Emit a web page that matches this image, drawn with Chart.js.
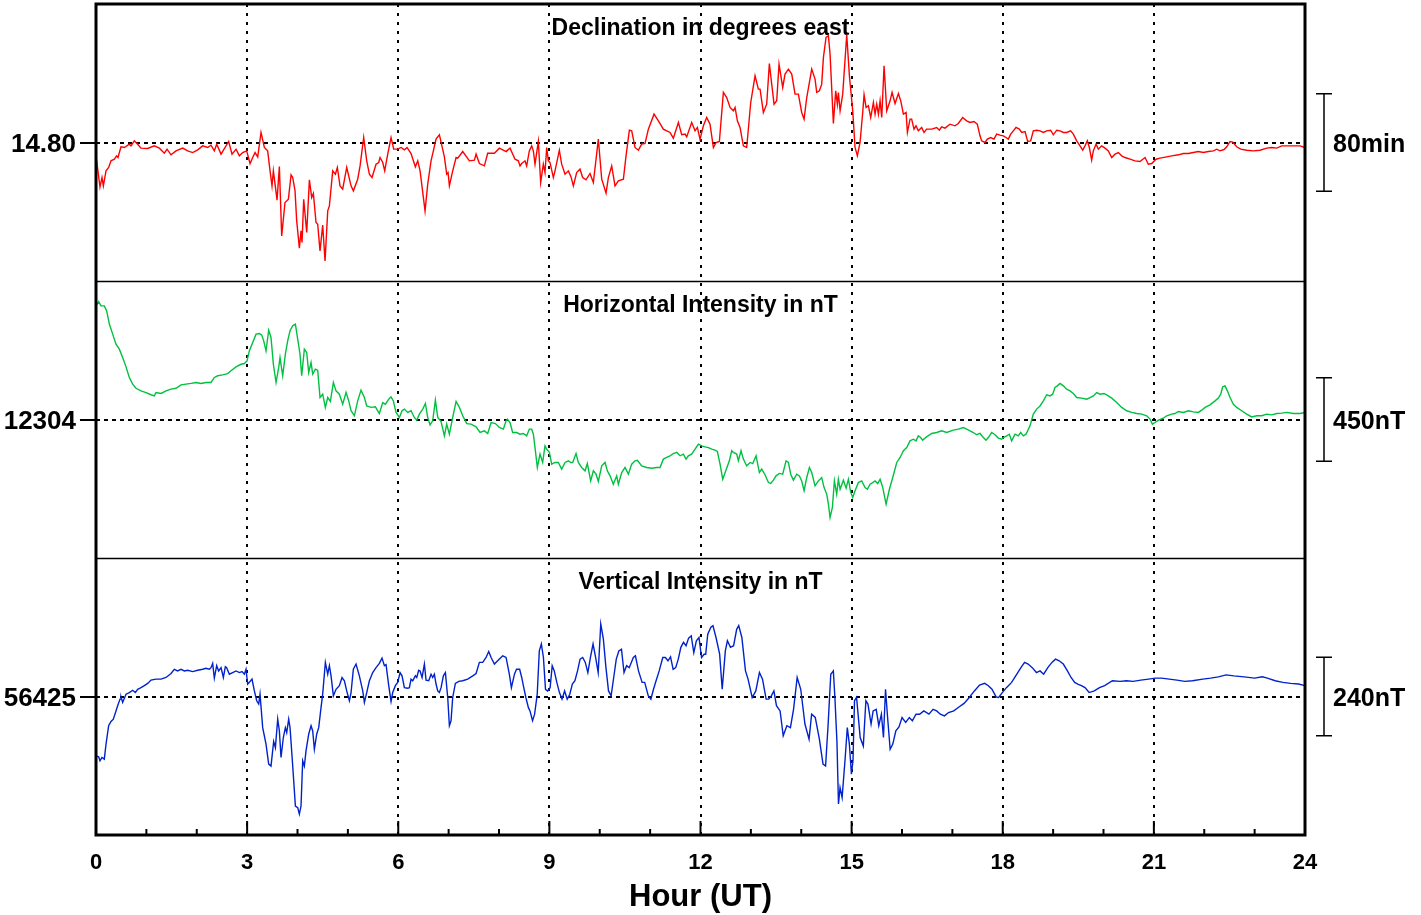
<!DOCTYPE html>
<html>
<head>
<meta charset="utf-8">
<title>Magnetogram</title>
<script src="https://cdn.jsdelivr.net/npm/chart.js@4.4.1/dist/chart.umd.min.js"></script>
<style>
  html, body { margin: 0; padding: 0; background: #fff; }
  #wrap { width: 1421px; height: 915px; }
</style>
</head>
<body>
<div id="wrap"><canvas id="magChart"></canvas></div>
<script>
// Hour ticks along the bottom axis
const hourTicks = [0, 3, 6, 9, 12, 15, 18, 21, 24];

// Panel titles, baselines (centre tick) and scale-bar spans
const panelTitles = ['Declination in degrees east', 'Horizontal Intensity in nT', 'Vertical Intensity in nT'];
const panelCenters = [14.80, 12304, 56425];
const panelHalfRanges = [1.890, 744.6, 422.4];
const scaleBarSpans = [80 / 60, 450, 240];
const scaleBarLabels = ['80min', '450nT', '240nT'];

// Declination (degrees east)
const declHours = [
  0, 0.079, 0.119, 0.146, 0.199, 0.251, 0.298, 0.364, 0.410, 0.437,
  0.496, 0.563, 0.662, 0.695, 0.761, 0.827, 0.893, 1.026, 1.158, 1.257,
  1.357, 1.410, 1.489, 1.588, 1.721, 1.820, 1.919, 2.019, 2.118, 2.217,
  2.283, 2.349, 2.396, 2.482, 2.634, 2.700, 2.780, 2.846, 2.912, 2.991,
  3.058, 3.111, 3.157, 3.210, 3.276, 3.342, 3.408, 3.455, 3.494, 3.521,
  3.594, 3.640, 3.686, 3.752, 3.819, 3.872, 3.905, 3.951, 3.984, 4.037,
  4.070, 4.090, 4.123, 4.183, 4.236, 4.282, 4.315, 4.368, 4.401, 4.447,
  4.500, 4.547, 4.600, 4.633, 4.699, 4.752, 4.791, 4.844, 4.897, 4.977,
  5.063, 5.109, 5.195, 5.242, 5.314, 5.374, 5.427, 5.480, 5.559, 5.612,
  5.639, 5.692, 5.731, 5.791, 5.857, 5.910, 5.989, 6.056, 6.122, 6.175,
  6.254, 6.340, 6.387, 6.433, 6.532, 6.585, 6.651, 6.697, 6.750, 6.817,
  6.916, 6.962, 6.989, 7.015, 7.081, 7.148, 7.181, 7.280, 7.412, 7.512,
  7.545, 7.611, 7.710, 7.776, 7.909, 8.008, 8.140,
  8.152, 8.219, 8.318, 8.384, 8.417, 8.450, 8.516, 8.549, 8.602, 8.649,
  8.682, 8.715, 8.781, 8.827, 8.880, 8.913, 8.947, 8.980, 9.013, 9.079,
  9.112, 9.198, 9.244, 9.311, 9.377, 9.430, 9.476, 9.542, 9.608, 9.661,
  9.727, 9.807, 9.873, 9.972, 10.039, 10.125, 10.171, 10.237, 10.303, 10.369,
  10.469, 10.522, 10.588, 10.634, 10.700, 10.767, 10.833, 10.899, 10.965, 11.078,
  11.164, 11.263, 11.329, 11.395, 11.461, 11.561, 11.627, 11.693, 11.726, 11.825,
  11.892, 11.938, 11.991, 12.057, 12.123, 12.189, 12.256, 12.309, 12.375, 12.454,
  12.520, 12.587, 12.653, 12.686, 12.732, 12.785, 12.851, 12.917, 12.997, 13.083,
  13.149, 13.182, 13.248, 13.314, 13.367, 13.414, 13.460, 13.513, 13.559, 13.632,
  13.678, 13.745, 13.811, 13.877, 13.943, 14.009, 14.056, 14.109, 14.208, 14.274,
  14.307, 14.360, 14.406, 14.440, 14.492, 14.539, 14.572, 14.638, 14.684, 14.717,
  14.737, 14.771, 14.823, 14.903, 14.956, 15.022, 15.068, 15.114, 15.167, 15.220,
  15.247, 15.287, 15.333, 15.379, 15.432, 15.465, 15.498, 15.532, 15.565, 15.598,
  15.644, 15.697, 15.763, 15.803, 15.862, 15.929, 15.975, 16.028, 16.081, 16.107,
  16.160,
  16.192, 16.238, 16.278, 16.324, 16.390, 16.437, 16.489, 16.589, 16.688, 16.741,
  16.787, 16.853, 16.953, 17.052, 17.118, 17.204, 17.284, 17.350, 17.429, 17.495,
  17.548, 17.581, 17.648, 17.694, 17.760, 17.826, 17.879, 17.945, 18.012, 18.065,
  18.111, 18.157, 18.210, 18.263, 18.329, 18.376, 18.442, 18.495, 18.554, 18.607,
  18.673, 18.740, 18.806, 18.872, 18.951, 19.004, 19.071, 19.137, 19.203, 19.269,
  19.348, 19.401, 19.468, 19.534, 19.587, 19.633, 19.679, 19.719, 19.765, 19.798,
  19.851, 19.898, 19.964, 20.030, 20.096, 20.163, 20.229, 20.295, 20.361, 20.427,
  20.527, 20.626, 20.725, 20.824, 20.890, 20.957, 21.043, 21.122, 21.254, 21.354,
  21.486, 21.585, 21.685, 21.784, 21.883, 21.983, 22.082, 22.181, 22.247, 22.313,
  22.393, 22.446, 22.512, 22.565, 22.644, 22.724, 22.843, 22.975, 23.108, 23.240,
  23.339, 23.439, 23.538, 23.670, 23.802, 23.902, 24.0
];
const declValues = [
  14.618, 14.195, 14.322, 14.208, 14.413, 14.459, 14.550, 14.572, 14.618, 14.595,
  14.741, 14.732, 14.777, 14.754, 14.823, 14.777, 14.723, 14.718, 14.754, 14.723,
  14.654, 14.709, 14.632, 14.686, 14.723, 14.686, 14.663, 14.700, 14.754, 14.732,
  14.764, 14.686, 14.777, 14.641, 14.814, 14.641, 14.709, 14.618, 14.663, 14.686,
  14.513, 14.595, 14.663, 14.604, 14.937, 14.732, 14.686, 14.413, 14.208, 14.413,
  14.013, 14.472, 13.526, 13.981, 14.026, 14.359, 14.322, 14.140, 13.731, 13.358,
  13.594, 13.435, 14.026, 13.571, 14.290, 14.049, 14.104, 13.708, 13.685, 13.321,
  13.672, 13.185, 13.867, 13.935, 14.413, 14.368, 14.459, 14.208, 14.163, 14.459,
  14.208, 14.140, 14.299, 14.481, 14.868, 14.550, 14.368, 14.322, 14.504, 14.527,
  14.595, 14.527, 14.413, 14.641, 14.868, 14.709, 14.709, 14.732, 14.700, 14.732,
  14.650, 14.468, 14.550, 14.413, 13.867, 14.231, 14.550, 14.686, 14.846, 14.905,
  14.604, 14.368, 14.390, 14.208, 14.413, 14.595, 14.586, 14.677, 14.550, 14.559,
  14.641, 14.513, 14.481, 14.654, 14.654, 14.723, 14.677,
  14.686, 14.723, 14.572, 14.550, 14.481, 14.513, 14.550, 14.481, 14.686, 14.754,
  14.686, 14.504, 14.814, 14.254, 14.504, 14.390, 14.732, 14.550, 14.527, 14.322,
  14.413, 14.695, 14.504, 14.368, 14.413, 14.331, 14.208, 14.390, 14.436, 14.322,
  14.290, 14.377, 14.254, 14.846, 14.299, 14.108, 14.322, 14.481, 14.208, 14.277,
  14.299, 14.618, 14.968, 14.959, 14.732, 14.695, 14.777, 14.786, 14.982, 15.187,
  15.096, 14.982, 14.959, 14.937, 14.859, 15.073, 14.905, 14.914, 14.877, 15.073,
  14.959, 15.005, 14.846, 15.028, 15.141, 15.050, 14.732, 14.800, 14.814, 15.483,
  15.414, 15.278, 15.232, 15.278, 15.096, 15.005, 14.754, 14.732, 15.346, 15.710,
  15.528, 15.528, 15.210, 15.323, 15.878, 15.596, 15.323, 15.369, 15.869, 15.551,
  15.733, 15.801, 15.733, 15.460, 15.460, 15.210, 15.119, 15.414, 15.801, 15.665,
  15.483, 15.505, 15.596, 15.960, 16.233, 16.256, 16.006, 15.059, 15.505, 15.323,
  15.483, 15.232, 15.460, 16.270, 15.710, 15.232, 14.732, 14.618, 14.800, 15.210,
  15.451, 15.278, 15.301, 15.141, 15.346, 15.187, 15.323, 15.187, 15.369, 15.141,
  15.847, 15.232, 15.369, 15.483, 15.332, 15.469, 15.369, 15.187, 15.210, 14.937,
  15.119,
  15.119, 14.982, 15.028, 14.959, 15.005, 14.937, 14.982, 14.982, 15.005, 14.968,
  15.014, 14.996, 15.050, 15.028, 15.059, 15.141, 15.096, 15.073, 15.087, 15.050,
  14.891, 14.823, 14.800, 14.846, 14.868, 14.846, 14.914, 14.900, 14.891, 14.868,
  14.846, 14.914, 14.959, 15.005, 14.982, 14.937, 14.950, 14.814, 14.823, 14.959,
  14.968, 14.959, 14.937, 14.959, 14.968, 14.905, 14.968, 14.959, 14.937, 14.937,
  14.959, 14.914, 14.823, 14.754, 14.695, 14.754, 14.823, 14.732, 14.559, 14.686,
  14.777, 14.709, 14.754, 14.723, 14.686, 14.595, 14.641, 14.663, 14.618, 14.595,
  14.572, 14.550, 14.541, 14.595, 14.504, 14.513, 14.572, 14.586, 14.604, 14.618,
  14.632, 14.650, 14.650, 14.663, 14.677, 14.663, 14.677, 14.686, 14.709, 14.686,
  14.704, 14.741, 14.814, 14.805, 14.741, 14.709, 14.695, 14.686, 14.695, 14.723,
  14.732, 14.723, 14.754, 14.754, 14.754, 14.754, 14.732
];

// Horizontal intensity (nT)
const horizHours = [
  0, 0.053, 0.099, 0.165, 0.212, 0.265, 0.331, 0.397, 0.463, 0.529,
  0.596, 0.662, 0.728, 0.794, 0.893, 0.993, 1.092, 1.158, 1.191, 1.291,
  1.390, 1.489, 1.588, 1.688, 1.787, 1.886, 1.985, 2.085, 2.184, 2.283,
  2.349, 2.416, 2.515, 2.614, 2.680, 2.780, 2.879, 2.945, 2.998, 3.044,
  3.111, 3.177, 3.243, 3.289, 3.329, 3.375, 3.428, 3.474, 3.521, 3.574,
  3.627, 3.653, 3.706, 3.759, 3.805, 3.852, 3.905, 3.958, 4.004, 4.050,
  4.083, 4.136, 4.183, 4.222, 4.269, 4.302, 4.355, 4.401, 4.447, 4.500,
  4.553, 4.600, 4.653, 4.712, 4.765, 4.831, 4.897, 4.964, 5.017, 5.063,
  5.129, 5.195, 5.261, 5.328, 5.374, 5.460, 5.546, 5.625, 5.692, 5.745,
  5.811, 5.857, 5.903, 5.956, 6.023, 6.075, 6.122, 6.188, 6.254, 6.320,
  6.367, 6.420, 6.486, 6.539, 6.585, 6.631, 6.684, 6.737, 6.784, 6.850,
  6.916, 6.962, 7.015, 7.081, 7.148, 7.214, 7.280, 7.359, 7.445, 7.545,
  7.624, 7.710, 7.776, 7.843, 7.928, 8.008, 8.087, 8.140,
  8.166, 8.219, 8.271, 8.351, 8.417, 8.483, 8.549, 8.602, 8.649, 8.682,
  8.715, 8.761, 8.814, 8.867, 8.913, 8.947, 9.000, 9.046, 9.112, 9.178,
  9.244, 9.311, 9.377, 9.423, 9.463, 9.529, 9.575, 9.641, 9.708, 9.754,
  9.820, 9.873, 9.926, 9.972, 10.039, 10.105, 10.151, 10.204, 10.270, 10.336,
  10.369, 10.436, 10.502, 10.568, 10.634, 10.700, 10.747, 10.833, 10.932, 11.031,
  11.131, 11.197, 11.263, 11.329, 11.395, 11.461, 11.528, 11.594, 11.660, 11.713,
  11.759, 11.825, 11.892, 11.958, 12.024, 12.090, 12.156, 12.223, 12.289, 12.335,
  12.388, 12.441, 12.507, 12.573, 12.620, 12.653, 12.719, 12.752, 12.805, 12.851,
  12.917, 12.984, 13.037, 13.103, 13.169, 13.215, 13.281, 13.348, 13.394, 13.447,
  13.500, 13.566, 13.632, 13.698, 13.745, 13.791, 13.844, 13.910, 13.963, 14.009,
  14.056, 14.109, 14.162, 14.208, 14.274, 14.340, 14.406, 14.453, 14.506, 14.539,
  14.572, 14.618, 14.658, 14.704, 14.737, 14.771, 14.837, 14.890, 14.936, 14.982,
  15.022, 15.068, 15.134, 15.200, 15.267, 15.313, 15.366, 15.419, 15.465, 15.518,
  15.565, 15.618, 15.684, 15.750, 15.816, 15.896, 15.962, 16.028, 16.094, 16.160,
  16.225, 16.278, 16.324, 16.370, 16.410, 16.489, 16.589, 16.688, 16.787, 16.887,
  17.019, 17.118, 17.217, 17.284, 17.350, 17.416, 17.482, 17.548, 17.615, 17.667,
  17.714, 17.780, 17.846, 17.912, 17.979, 18.012, 18.078, 18.131, 18.177, 18.243,
  18.309, 18.356, 18.409, 18.462, 18.541, 18.607, 18.673, 18.740, 18.806, 18.872,
  18.938, 18.991, 19.037, 19.084, 19.137, 19.203, 19.269, 19.335, 19.401, 19.468,
  19.567, 19.666, 19.732, 19.798, 19.865, 19.931, 20.010, 20.096, 20.163, 20.262,
  20.361, 20.460, 20.560, 20.659, 20.758, 20.857, 20.924, 20.970, 21.023, 21.089,
  21.188, 21.254, 21.354, 21.420, 21.486, 21.585, 21.685, 21.784, 21.883, 21.949,
  22.016, 22.115, 22.214, 22.280, 22.327, 22.366, 22.413, 22.459, 22.512, 22.578,
  22.644, 22.744, 22.843, 22.942, 23.041, 23.141, 23.240, 23.339, 23.439, 23.538,
  23.637, 23.769, 23.902, 24.0
];
const horizValues = [
  12915, 12938, 12915, 12915, 12888, 12817, 12763, 12709, 12682, 12637,
  12587, 12530, 12494, 12472, 12458, 12449, 12437, 12431, 12449, 12444,
  12458, 12467, 12472, 12490, 12494, 12498, 12503, 12498, 12503, 12503,
  12530, 12539, 12544, 12551, 12566, 12587, 12601, 12605, 12619, 12673,
  12718, 12763, 12766, 12759, 12727, 12673, 12784, 12745, 12601, 12503,
  12584, 12637, 12539, 12655, 12727, 12781, 12808, 12817, 12736, 12655,
  12539, 12682, 12664, 12557, 12610, 12548, 12575, 12569, 12422, 12440,
  12369, 12422, 12401, 12503, 12458, 12440, 12386, 12449, 12404, 12351,
  12324, 12404, 12462, 12422, 12377, 12369, 12372, 12336, 12395, 12386,
  12413, 12426, 12404, 12342, 12315, 12351, 12360, 12342, 12351, 12315,
  12300, 12333, 12360, 12390, 12315, 12275, 12297, 12408, 12315, 12293,
  12216, 12279, 12225, 12315, 12401, 12369, 12324, 12282, 12279, 12265,
  12234, 12243, 12229, 12288, 12282, 12261, 12252, 12297,
  12306, 12288, 12234, 12234, 12225, 12229, 12216, 12252, 12252, 12225,
  12153, 12046, 12118, 12073, 12162, 12145, 12127, 12064, 12073, 12073,
  12037, 12073, 12082, 12073, 12073, 12121, 12073, 12046, 12028, 12067,
  11974, 12028, 12010, 11971, 12055, 12073, 12028, 12001, 11956, 12001,
  11956, 12019, 12046, 12010, 12064, 12082, 12085, 12055, 12046, 12042,
  12046, 12046, 12091, 12100, 12109, 12121, 12127, 12109, 12118, 12091,
  12109, 12118, 12145, 12171, 12162, 12157, 12153, 12145, 12139, 12132,
  12064, 11983, 12032, 12082, 12136, 12127, 12118, 12082, 12136, 12091,
  12055, 12073, 12067, 12109, 12019, 12037, 12007, 11965, 11960, 11978,
  12001, 12014, 12010, 12082, 12073, 12010, 11978, 12010, 12001, 11974,
  11921, 11992, 12046, 12019, 11947, 11974, 11992, 11938, 11903, 11849,
  11777, 11831, 11974, 11903, 11983, 11929, 11978, 11935, 11983, 11912,
  11885, 11921, 11965, 11974, 11938, 11929, 11956, 11965, 11974, 11960,
  11983, 11938, 11849, 11929, 11992, 12073, 12100, 12136, 12153, 12189,
  12198, 12189, 12216, 12207, 12193, 12211, 12229, 12234, 12243, 12234,
  12247, 12252, 12261, 12252, 12243, 12234, 12222, 12229, 12207, 12193,
  12207, 12234, 12222, 12204, 12198, 12207, 12216, 12225, 12189, 12225,
  12216, 12234, 12216, 12225, 12270, 12333, 12360, 12377, 12404, 12437,
  12431, 12440, 12476, 12485, 12498, 12485, 12467, 12458, 12444, 12422,
  12419, 12413, 12422, 12431, 12449, 12440, 12444, 12431, 12419, 12395,
  12369, 12351, 12342, 12336, 12333, 12324, 12306, 12279, 12288, 12300,
  12311, 12324, 12333, 12336, 12347, 12342, 12351, 12345, 12342, 12354,
  12369, 12383, 12404, 12419, 12440, 12480, 12485, 12458, 12422, 12386,
  12369, 12351, 12333, 12318, 12324, 12324, 12333, 12329, 12336, 12338,
  12342, 12336, 12336, 12342
];

// Vertical intensity (nT)
const vertHours = [
  0, 0.053, 0.079, 0.119, 0.165, 0.199, 0.251, 0.298, 0.344, 0.397,
  0.430, 0.477, 0.496, 0.529, 0.596, 0.662, 0.728, 0.781, 0.827, 0.893,
  0.960, 1.026, 1.092, 1.191, 1.291, 1.390, 1.489, 1.555, 1.621, 1.688,
  1.754, 1.820, 1.919, 2.019, 2.118, 2.184, 2.250, 2.283, 2.316, 2.349,
  2.396, 2.435, 2.482, 2.528, 2.568, 2.594, 2.647, 2.713, 2.780, 2.846,
  2.899, 2.945, 2.978, 3.011, 3.058, 3.097, 3.144, 3.190, 3.230, 3.256,
  3.309, 3.375, 3.428, 3.474, 3.527, 3.561, 3.607, 3.640, 3.673, 3.719,
  3.759, 3.786, 3.825, 3.852, 3.905, 3.958, 4.004, 4.037, 4.070, 4.103,
  4.136, 4.169, 4.222, 4.269, 4.302, 4.335, 4.381, 4.421, 4.467, 4.500,
  4.553, 4.600, 4.633, 4.666, 4.712, 4.765, 4.831, 4.884, 4.931, 4.977,
  5.030, 5.063, 5.109, 5.162, 5.228, 5.295, 5.328, 5.374, 5.427, 5.493,
  5.559, 5.625, 5.678, 5.725, 5.758, 5.811, 5.857, 5.890, 5.943, 5.989,
  6.036, 6.075, 6.122, 6.188, 6.221, 6.254, 6.287, 6.340, 6.367, 6.406,
  6.433, 6.473, 6.519, 6.552, 6.605, 6.651, 6.684, 6.717, 6.750, 6.784,
  6.817, 6.850, 6.896, 6.936, 6.982, 7.015, 7.048, 7.081, 7.134, 7.201,
  7.280, 7.379, 7.479, 7.545, 7.611, 7.677, 7.743, 7.796, 7.843, 7.909,
  8.008, 8.074, 8.140,
  8.205, 8.246, 8.307, 8.348, 8.410, 8.451, 8.492, 8.533, 8.584, 8.615,
  8.666, 8.707, 8.759, 8.800, 8.841, 8.882, 8.923, 8.964, 9.015, 9.056,
  9.097, 9.148, 9.200, 9.251, 9.302, 9.354, 9.405, 9.456, 9.507, 9.559,
  9.610, 9.661, 9.713, 9.764, 9.815, 9.867, 9.918, 9.969, 10.020, 10.072,
  10.123, 10.174, 10.226, 10.277, 10.328, 10.379, 10.431, 10.482, 10.533, 10.585,
  10.667, 10.708, 10.769, 10.841, 10.892, 10.964, 11.015, 11.067, 11.118, 11.180,
  11.251, 11.303, 11.354, 11.405, 11.457, 11.508, 11.559, 11.610, 11.662, 11.713,
  11.764, 11.816, 11.867, 11.918, 11.970, 12.021, 12.072, 12.103, 12.144, 12.206,
  12.247, 12.308, 12.380, 12.431, 12.493, 12.534, 12.595, 12.657, 12.718, 12.759,
  12.821, 12.893, 12.944, 13.026, 13.098, 13.170, 13.231, 13.303, 13.354, 13.406,
  13.457, 13.508, 13.580, 13.642, 13.714, 13.785, 13.847, 13.919, 13.990, 14.073,
  14.155, 14.206, 14.278, 14.360, 14.432, 14.483, 14.534, 14.586, 14.637, 14.668,
  14.709, 14.739, 14.770, 14.811, 14.873, 14.914, 14.955, 14.996, 15.027, 15.057,
  15.098, 15.170, 15.232, 15.283, 15.324, 15.386, 15.427, 15.488, 15.539, 15.591,
  15.632, 15.673, 15.714, 15.765, 15.817, 15.878, 15.940, 16.001, 16.073, 16.145,
  16.206, 16.278, 16.350, 16.432, 16.535, 16.617, 16.688, 16.760, 16.842, 16.924,
  17.027, 17.130, 17.232, 17.335, 17.437, 17.540, 17.642, 17.714, 17.786, 17.868,
  17.919, 17.991, 18.073, 18.176, 18.279, 18.361, 18.433, 18.504, 18.586, 18.669,
  18.740, 18.812, 18.894, 18.976, 19.048, 19.120, 19.202, 19.284, 19.356, 19.428,
  19.489, 19.561, 19.633, 19.715, 19.817, 19.920, 20.023, 20.177, 20.330, 20.454,
  20.587, 20.741, 20.895, 21.028, 21.151, 21.305, 21.459, 21.613, 21.767, 21.972,
  22.126, 22.280, 22.433, 22.587, 22.792, 22.998, 23.152, 23.254, 23.408, 23.562,
  23.716, 23.870, 24.0
];
const vertValues = [
  56244, 56241, 56229, 56239, 56234, 56280, 56336, 56349, 56356, 56381,
  56397, 56417, 56424, 56407, 56432, 56437, 56444, 56437, 56447, 56452,
  56458, 56465, 56475, 56478, 56478, 56483, 56495, 56508, 56503, 56508,
  56503, 56505, 56501, 56505, 56508, 56511, 56508, 56513, 56526, 56481,
  56519, 56503, 56513, 56483, 56516, 56513, 56493, 56498, 56503, 56498,
  56501, 56493, 56508, 56463, 56471, 56478, 56442, 56412, 56402, 56432,
  56330, 56280, 56219, 56213, 56288, 56269, 56356, 56320, 56239, 56300,
  56330, 56315, 56356, 56330, 56213, 56091, 56086, 56066, 56091, 56229,
  56213, 56259, 56310, 56336, 56320, 56264, 56310, 56330, 56391, 56432,
  56529, 56493, 56519, 56488, 56427, 56447, 56458, 56483, 56473, 56442,
  56412, 56437, 56508, 56524, 56488, 56442, 56407, 56437, 56473, 56498,
  56513, 56526, 56542, 56519, 56522, 56458, 56410, 56437, 56458, 56468,
  56498, 56488, 56452, 56450, 56452, 56478, 56473, 56488, 56483, 56505,
  56503, 56483, 56524, 56475, 56473, 56493, 56483, 56493, 56463, 56442,
  56437, 56452, 56488, 56498, 56422, 56336, 56351, 56422, 56465, 56471,
  56473, 56478, 56488, 56495, 56529, 56529, 56544, 56562, 56544, 56524,
  56539, 56549, 56544,
  56493, 56452, 56493, 56508, 56508, 56483, 56452, 56422, 56391, 56381,
  56351, 56371, 56432, 56564, 56585, 56544, 56447, 56442, 56452, 56519,
  56503, 56468, 56437, 56417, 56442, 56417, 56432, 56463, 56473, 56503,
  56539, 56544, 56529, 56498, 56544, 56585, 56544, 56498, 56646, 56600,
  56513, 56442, 56427, 56483, 56539, 56564, 56569, 56498, 56519, 56513,
  56544, 56549, 56503, 56468, 56468, 56427, 56417, 56447, 56473, 56503,
  56544, 56544, 56534, 56546, 56508, 56513, 56539, 56575, 56590, 56580,
  56603, 56610, 56559, 56595, 56605, 56544, 56554, 56554, 56615, 56636,
  56641, 56605, 56554, 56447, 56564, 56595, 56575, 56580, 56630, 56641,
  56605, 56503, 56478, 56422, 56442, 56498, 56478, 56417, 56417, 56427,
  56442, 56397, 56381, 56305, 56336, 56330, 56386, 56483, 56447, 56341,
  56295, 56371, 56361, 56295, 56219, 56213, 56341, 56493, 56503, 56422,
  56285, 56097, 56147, 56117, 56239, 56330, 56280, 56188, 56229, 56412,
  56422, 56300, 56274, 56412, 56402, 56341, 56381, 56386, 56336, 56371,
  56300, 56447, 56361, 56264, 56280, 56320, 56332, 56361, 56346, 56361,
  56351, 56371, 56371, 56381, 56371, 56386, 56381, 56371, 56366, 56376,
  56381, 56393, 56404, 56422, 56442, 56460, 56465, 56458, 56447, 56424,
  56422, 56437, 56452, 56468, 56493, 56513, 56529, 56524, 56513, 56498,
  56503, 56493, 56513, 56529, 56539, 56534, 56524, 56503, 56483, 56468,
  56463, 56458, 56452, 56437, 56442, 56452, 56458, 56473, 56471, 56473,
  56471, 56475, 56478, 56481, 56481, 56478, 56475, 56471, 56473, 56478,
  56481, 56485, 56491, 56488, 56485, 56481, 56485, 56481, 56473, 56468,
  56465, 56463, 56458
];

const FONT = '"Liberation Sans", Arial, Helvetica, sans-serif';
const panelAxisIds = ['yD', 'yH', 'yZ'];
const panelDecimals = [2, 0, 0];

function toPoints(hours, values) {
  return hours.map((h, i) => ({ x: h, y: values[i] }));
}

// one stacked y axis per panel, only the baseline tick is shown
function panelAxis(i) {
  const c = panelCenters[i];
  return {
    type: 'linear',
    position: 'left',
    stack: 'mag',
    stackWeight: 1,
    weight: 3 - i,
    min: c - panelHalfRanges[i],
    max: c + panelHalfRanges[i],
    afterBuildTicks: s => { s.ticks = [{ value: c }]; },
    afterFit: s => {
      s.width = 96;
      // label sits mid-panel, so no overflow padding is needed
      s.paddingTop = 0;
      s.paddingBottom = 0;
    },
    ticks: {
      color: '#000',
      padding: 4,
      labelOffset: 2,
      font: { family: FONT, size: 26, weight: 'bold' },
      callback: v => Number(v).toFixed(panelDecimals[i])
    },
    grid: {
      color: '#000',
      lineWidth: 2,
      drawTicks: true,
      tickLength: 16,
      tickColor: '#000',
      tickWidth: 2,
      tickBorderDash: []
    },
    border: { display: false, dash: [4, 4] }
  };
}

// frame, panel separators, inner hour ticks, titles and scale bars
const panelDecor = {
  id: 'panelDecor',
  beforeDatasetsDraw(chart) {
    const { ctx, scales } = chart;
    ctx.save();
    ctx.fillStyle = '#000';
    ctx.font = 'bold 23px ' + FONT;
    ctx.textAlign = 'center';
    ctx.textBaseline = 'middle';
    const xMid = scales.x.getPixelForValue(12);
    panelAxisIds.forEach((id, i) => {
      ctx.fillText(panelTitles[i], xMid, scales[id].top + 25);
    });
    ctx.restore();
  },
  afterDraw(chart) {
    const { ctx, chartArea: a, scales } = chart;
    ctx.save();
    ctx.strokeStyle = '#000';

    // separators between panels
    ctx.lineWidth = 1.5;
    ['yH', 'yZ'].forEach(id => {
      const y = Math.round(scales[id].top) + 0.5;
      ctx.beginPath();
      ctx.moveTo(a.left, y);
      ctx.lineTo(a.right, y);
      ctx.stroke();
    });

    // hour ticks inside the bottom edge
    ctx.lineWidth = 2;
    for (let h = 1; h < 24; h++) {
      const x = scales.x.getPixelForValue(h);
      const len = h % 3 === 0 ? 14 : 6;
      ctx.beginPath();
      ctx.moveTo(x, a.bottom);
      ctx.lineTo(x, a.bottom - len);
      ctx.stroke();
    }

    // outer frame
    ctx.lineWidth = 3;
    ctx.strokeRect(a.left, a.top, a.right - a.left, a.bottom - a.top);

    // scale bars on the right
    const bx = a.right + 19;
    ctx.lineWidth = 1.5;
    ctx.fillStyle = '#000';
    ctx.font = 'bold 25px ' + FONT;
    ctx.textAlign = 'left';
    ctx.textBaseline = 'middle';
    panelAxisIds.forEach((id, i) => {
      const s = scales[id];
      const yTop = s.getPixelForValue(panelCenters[i] + scaleBarSpans[i] / 2);
      const yBot = s.getPixelForValue(panelCenters[i] - scaleBarSpans[i] / 2);
      ctx.beginPath();
      ctx.moveTo(bx, yTop); ctx.lineTo(bx, yBot);
      ctx.moveTo(bx - 8, yTop); ctx.lineTo(bx + 8, yTop);
      ctx.moveTo(bx - 8, yBot); ctx.lineTo(bx + 8, yBot);
      ctx.stroke();
      ctx.fillText(scaleBarLabels[i], bx + 9, (yTop + yBot) / 2 + 3);
    });
    ctx.restore();
  }
};

const ctx = document.getElementById('magChart');

new Chart(ctx, {
  type: 'line',
  data: {
    datasets: [
      { label: 'D', data: toPoints(declHours, declValues), yAxisID: 'yD', borderColor: '#ff0000' },
      { label: 'H', data: toPoints(horizHours, horizValues), yAxisID: 'yH', borderColor: '#00c040' },
      { label: 'Z', data: toPoints(vertHours, vertValues), yAxisID: 'yZ', borderColor: '#0022cc' }
    ]
  },
  options: {
    responsive: true,
    maintainAspectRatio: false,
    animation: false,
    devicePixelRatio: 1,
    layout: { padding: { top: 4, right: 116, bottom: 0, left: 0 } },
    elements: {
      line: { borderWidth: 1.4, tension: 0, fill: false },
      point: { radius: 0, hitRadius: 0 }
    },
    plugins: {
      legend: { display: false },
      tooltip: { enabled: false }
    },
    scales: {
      x: {
        type: 'linear',
        min: 0,
        max: 24,
        afterBuildTicks: s => { s.ticks = hourTicks.map(v => ({ value: v })); },
        afterFit: s => { s.height = 80; },
        ticks: {
          color: '#000',
          padding: 15,
          maxRotation: 0,
          font: { family: FONT, size: 22, weight: 'bold' }
        },
        grid: {
          color: c => (c.tick && (c.tick.value === 0 || c.tick.value === 24)) ? 'rgba(0,0,0,0)' : '#000',
          lineWidth: 2,
          drawTicks: false
        },
        border: { display: false, dash: [3, 6] },
        title: {
          display: true,
          text: 'Hour (UT)',
          color: '#000',
          padding: { top: 0, bottom: 0 },
          font: { family: FONT, size: 31, weight: 'bold', lineHeight: 1.15 }
        }
      },
      yD: panelAxis(0),
      yH: panelAxis(1),
      yZ: panelAxis(2)
    }
  },
  plugins: [panelDecor]
});
</script>
</body>
</html>
